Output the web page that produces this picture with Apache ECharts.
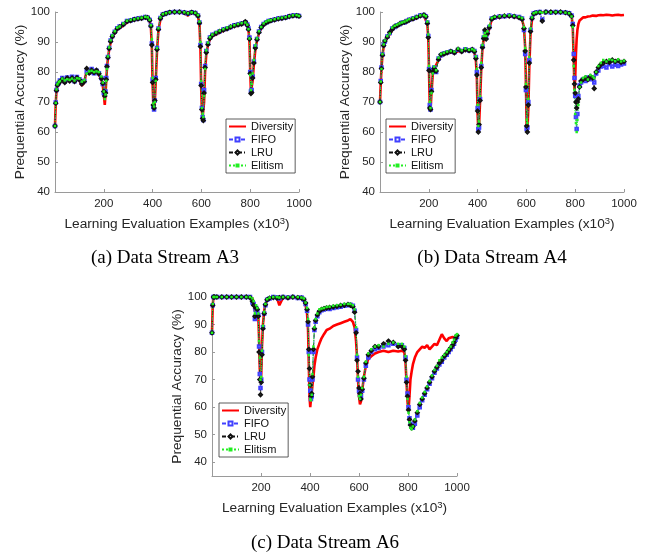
<!DOCTYPE html>
<html>
<head>
<meta charset="utf-8">
<script src="https://cdn.jsdelivr.net/npm/echarts@6/dist/echarts.min.js"></script>
<style>
  html, body { margin: 0; padding: 0; background: #fff; }
  #chart { width: 651px; height: 557px; }
</style>
</head>
<body>
<div id="chart"></div>
<script>
// Data Stream A3 (x in thousands of examples)
const xA = [
  0, 3, 6, 10, 15, 20, 30, 40, 50, 60,
  70, 80, 90, 100, 110, 120, 130, 140, 150, 160,
  170, 180, 190, 196, 200, 204, 207, 210, 213, 217,
  222, 228, 235, 245, 255, 265, 280, 295, 310, 325,
  340, 355, 370, 380, 388, 393, 397, 400, 403, 406,
  409, 413, 418, 424, 432, 442, 455, 470, 490, 510,
  530, 545, 560, 575, 586, 592, 596, 599, 602, 605,
  608, 611, 615, 620, 627, 635, 645, 660, 675, 690,
  705, 720, 735, 750, 765, 780, 788, 793, 797, 800,
  803, 806, 810, 815, 821, 828, 836, 845, 855, 865,
  875, 885, 900, 915, 930, 945, 960, 975, 990, 1000
];
const diversityA = [
  62.0, 69.5, 73.5, 75.5, 76.0, 76.5, 77.0, 76.3, 77.8, 76.8,
  77.5, 76.6, 77.9, 77.2, 75.4, 76.5, 80.6, 79.4, 80.2, 79.3,
  80.1, 79.0, 77.5, 75.5, 72.5, 69.0, 72.8, 77.0, 81.5, 84.5,
  87.5, 89.8, 91.5, 93.0, 94.2, 94.6, 95.5, 96.5, 97.0, 97.3,
  97.5, 97.8, 98.2, 98.0, 97.0, 95.0, 88.0, 76.0, 69.0, 68.0,
  70.0, 77.0, 87.0, 94.0, 97.5, 99.0, 99.5, 99.8, 100.0, 100.0,
  99.6, 98.8, 99.8, 99.5, 98.5, 96.0, 88.0, 75.0, 67.0, 65.0,
  64.5, 70.0, 80.0, 86.0, 89.0, 91.0, 92.0, 92.5, 93.2, 93.8,
  94.2, 94.8, 95.2, 95.5, 95.8, 96.2, 95.5, 94.0, 90.0, 80.5,
  73.5, 73.0, 77.0, 82.5, 87.5, 90.5, 93.0, 94.5, 95.5, 96.2,
  96.6, 97.0, 97.2, 97.6, 97.8, 98.0, 98.4, 98.6, 98.8, 98.6
];
const fifoA = [
  62.0, 69.8, 74.0, 75.8, 76.3, 77.2, 78.0, 76.8, 78.2, 77.3,
  78.4, 76.9, 78.3, 77.6, 76.5, 77.0, 80.2, 79.8, 81.0, 79.6,
  80.4, 79.6, 78.0, 76.0, 73.0, 72.5, 73.5, 78.0, 82.0, 85.0,
  88.0, 90.5, 92.0, 93.4, 94.6, 95.2, 96.0, 97.0, 97.2, 97.6,
  97.8, 98.0, 98.3, 98.1, 97.3, 95.5, 89.5, 77.5, 68.5, 67.5,
  70.5, 78.0, 88.0, 94.5, 98.0, 99.2, 99.6, 99.9, 100.0, 100.0,
  99.8, 99.4, 99.9, 99.7, 98.8, 96.5, 89.0, 76.0, 68.0, 65.0,
  64.0, 74.0, 82.0, 87.0, 89.5, 91.5, 92.4, 93.0, 93.6, 94.2,
  94.5, 95.0, 95.6, 95.8, 96.2, 96.6, 95.8, 94.5, 91.5, 80.0,
  73.5, 74.0, 78.5, 83.5, 88.5, 91.0, 93.5, 95.0, 96.0, 96.5,
  97.0, 97.2, 97.5, 97.8, 98.0, 98.2, 98.6, 98.8, 98.9, 98.7
];
const lruA = [
  62.0, 69.6, 73.8, 75.6, 76.2, 76.8, 77.6, 76.5, 78.0, 77.0,
  78.0, 76.8, 78.1, 77.4, 76.0, 76.8, 81.2, 79.6, 80.6, 79.8,
  80.6, 79.4, 77.8, 76.2, 73.5, 72.0, 73.0, 77.5, 81.8, 84.8,
  87.8, 90.2, 91.8, 93.2, 94.4, 95.0, 95.8, 96.8, 97.1, 97.5,
  97.7, 97.9, 98.2, 98.1, 97.2, 95.3, 89.0, 76.5, 69.0, 68.0,
  70.5, 77.5, 87.5, 94.2, 97.8, 99.1, 99.5, 99.9, 100.0, 100.0,
  99.8, 99.5, 99.9, 99.6, 98.7, 96.3, 88.5, 75.5, 67.5, 64.5,
  63.8, 73.0, 81.5, 86.5, 89.2, 91.2, 92.2, 92.9, 93.5, 94.0,
  94.4, 95.0, 95.4, 95.7, 96.0, 96.8, 95.6, 94.2, 91.0, 79.5,
  72.8, 73.2, 78.0, 83.0, 88.0, 90.8, 93.2, 94.8, 95.8, 96.4,
  96.8, 97.1, 97.4, 97.7, 97.9, 98.1, 98.5, 98.7, 98.8, 98.6
];
const elitismA = [
  62.0, 69.7, 74.2, 75.9, 76.6, 77.0, 77.8, 77.2, 77.6, 77.4,
  77.8, 77.2, 77.9, 77.8, 76.8, 77.3, 79.5, 80.2, 80.4, 80.0,
  80.2, 80.0, 78.5, 76.5, 73.5, 71.0, 72.5, 77.0, 81.0, 85.2,
  88.2, 90.6, 92.2, 93.6, 94.8, 95.2, 96.2, 97.1, 97.4, 97.6,
  97.9, 98.1, 98.4, 98.2, 97.4, 95.6, 91.0, 78.0, 69.5, 68.5,
  70.0, 77.0, 88.0, 94.6, 98.2, 99.3, 99.6, 99.9, 100.0, 100.0,
  99.9, 99.6, 99.9, 99.7, 99.0, 96.8, 90.0, 77.0, 68.0, 66.0,
  65.0, 72.0, 81.0, 87.2, 89.8, 91.6, 92.5, 93.2, 93.8, 94.3,
  94.8, 95.2, 95.6, 96.0, 96.3, 96.5, 95.8, 94.3, 91.2, 79.0,
  74.0, 76.0, 79.5, 84.0, 88.8, 91.2, 93.6, 95.0, 96.2, 96.8,
  97.2, 97.3, 97.6, 97.9, 98.1, 98.3, 98.6, 98.9, 99.0, 98.7
];

// Data Stream A4
const xB = [
  0, 3, 6, 10, 15, 20, 30, 40, 50, 60,
  70, 80, 90, 100, 110, 120, 135, 150, 165, 180,
  188, 194, 198, 201, 204, 207, 211, 216, 222, 230,
  240, 250, 262, 275, 290, 305, 320, 335, 350, 365,
  378, 387, 393, 397, 400, 403, 406, 410, 415, 420,
  425, 430, 435, 440, 448, 458, 470, 490, 510, 530,
  550, 570, 582, 590, 595, 598, 601, 604, 608, 612,
  617, 623, 630, 640, 655, 665, 680, 700, 720, 740,
  760, 775, 785, 790, 794, 797, 800, 803, 806, 809,
  813, 818, 824, 832, 842, 852, 862, 872, 878, 886,
  895, 905, 915, 928, 940, 952, 964, 976, 988, 1000
];
const diversityB = [
  70.0, 76.0, 81.0, 85.5, 88.5, 90.0, 91.5, 92.5, 94.0, 94.8,
  95.3, 95.8, 96.2, 96.3, 96.8, 97.2, 97.5, 98.0, 98.6, 98.8,
  98.3, 96.0, 91.0, 80.0, 68.5, 67.0, 73.0, 79.0, 81.0, 80.5,
  84.0, 85.3, 85.8, 86.2, 86.5, 86.3, 87.0, 86.6, 87.3, 87.0,
  87.2, 86.5, 84.0, 78.0, 66.0, 60.5, 62.0, 70.0, 81.0, 88.0,
  91.0, 92.5, 93.0, 92.0, 94.5, 97.5, 98.0, 98.2, 98.5, 98.6,
  98.4, 98.0, 97.5, 95.0, 88.0, 76.0, 62.0, 60.0, 68.0, 82.0,
  93.0, 97.5, 99.2, 99.8, 100.0, 100.0, 100.0, 100.0, 100.0, 100.0,
  99.8, 99.6, 99.0, 95.0, 84.0, 74.0, 78.0, 86.0, 91.0, 94.0,
  96.0, 97.2, 97.8, 98.2, 98.2, 98.5, 98.6, 98.8, 98.9, 98.7,
  98.9, 99.0, 98.9, 99.1, 99.0, 98.8, 99.0, 99.1, 98.9, 99.0
];
const fifoB = [
  70.0, 77.0, 81.5, 85.8, 89.0, 90.2, 91.8, 93.0, 94.5, 95.0,
  95.6, 95.9, 96.4, 96.5, 97.0, 97.4, 97.8, 98.3, 98.8, 99.0,
  98.5, 96.5, 92.0, 81.0, 69.0, 67.5, 74.0, 80.5, 81.5, 80.0,
  84.5, 85.6, 86.2, 86.5, 86.8, 86.6, 87.4, 87.0, 87.6, 87.2,
  87.4, 87.0, 85.0, 80.0, 68.0, 61.0, 61.5, 71.0, 82.0, 88.5,
  91.5, 93.5, 91.5, 93.0, 95.0, 97.8, 98.2, 98.5, 98.6, 98.8,
  98.6, 98.3, 97.8, 94.0, 86.0, 74.0, 61.0, 61.5, 70.0, 84.0,
  94.0, 98.0, 99.5, 99.8, 100.0, 97.5, 100.0, 99.8, 100.0, 99.9,
  99.8, 99.6, 98.8, 96.0, 86.0, 78.0, 72.0, 65.0, 61.0, 66.0,
  72.0, 75.5, 76.5, 77.5, 77.0, 78.2, 77.6, 78.0, 76.5, 79.5,
  80.5, 81.8, 82.0, 81.5, 82.6, 81.8, 82.4, 82.0, 82.5, 82.8
];
const lruB = [
  70.0, 76.5, 81.2, 85.6, 88.8, 90.3, 91.6, 93.2, 94.2, 95.2,
  95.4, 96.0, 96.3, 96.6, 96.9, 97.3, 97.7, 98.2, 98.7, 99.0,
  98.4, 96.2, 91.5, 80.5, 68.0, 67.5, 73.5, 80.0, 81.2, 80.3,
  84.2, 85.8, 86.0, 86.4, 86.9, 86.4, 87.6, 86.8, 87.4, 87.1,
  87.5, 86.8, 84.5, 79.0, 67.0, 60.0, 62.5, 70.5, 81.5, 88.2,
  91.2, 94.0, 91.0, 92.8, 94.8, 97.6, 98.3, 98.4, 98.7, 98.6,
  98.5, 98.1, 97.6, 94.5, 87.0, 75.0, 62.0, 60.0, 69.0, 83.0,
  93.5, 97.8, 99.4, 99.7, 99.9, 97.0, 100.0, 100.0, 99.9, 100.0,
  99.8, 99.5, 98.6, 95.5, 84.0, 76.0, 73.0, 70.0, 68.0, 70.0,
  71.0, 75.0, 77.0, 77.5, 78.0, 77.5, 78.5, 78.0, 74.5, 80.0,
  81.5, 82.5, 83.0, 83.5, 83.2, 84.0, 83.5, 83.8, 83.2, 83.5
];
const elitismB = [
  70.0, 76.8, 81.0, 86.0, 89.2, 90.5, 92.0, 92.8, 94.8, 95.4,
  95.8, 96.2, 96.5, 96.8, 97.2, 97.6, 98.0, 98.4, 98.9, 99.0,
  98.6, 96.8, 92.5, 82.0, 70.0, 68.0, 73.0, 79.5, 81.8, 80.6,
  84.8, 86.0, 86.4, 86.8, 87.0, 86.8, 87.8, 87.2, 87.8, 87.4,
  87.6, 87.2, 85.2, 81.0, 69.0, 62.0, 63.5, 72.0, 83.0, 89.0,
  92.0, 93.0, 92.0, 93.5, 95.5, 98.0, 98.4, 98.6, 98.8, 98.9,
  98.7, 98.4, 98.0, 95.0, 88.0, 76.0, 64.0, 63.0, 71.0, 85.0,
  94.5, 98.2, 99.6, 99.9, 100.0, 99.8, 100.0, 99.9, 100.0, 100.0,
  99.8, 99.6, 98.5, 95.0, 82.0, 74.0, 66.0, 63.0, 60.0, 64.0,
  69.0, 75.0, 76.5, 78.0, 78.5, 77.5, 79.0, 78.5, 78.0, 80.0,
  82.0, 83.0, 84.0, 83.5, 84.2, 84.0, 83.6, 84.2, 83.5, 83.8
];

// Data Stream A6
const xC = [
  0, 3, 6, 10, 20, 40, 60, 80, 100, 120,
  140, 155, 165, 170, 175, 180, 185, 189, 192, 195,
  198, 201, 204, 208, 213, 218, 225, 235, 250, 265,
  275, 290, 310, 330, 350, 365, 375, 382, 388, 392,
  395, 398, 401, 404, 407, 410, 414, 418, 423, 430,
  438, 447, 457, 468, 480, 495, 510, 525, 540, 555,
  565, 575, 582, 588, 592, 596, 600, 604, 608, 613,
  620, 628, 638, 650, 665, 680, 700, 720, 740, 760,
  775, 785, 790, 794, 798, 802, 806, 810, 815, 820,
  828, 838, 848, 858, 868, 878, 888, 898, 908, 918,
  928, 938, 948, 958, 966, 974, 982, 988, 994, 1000
];
const diversityC = [
  87.0, 97.0, 100, 100, 100, 100, 100, 100, 100, 100,
  100, 100, 99.5, 98.0, 95.0, 96.5, 95.5, 93.0, 85.0, 74.0,
  69.0, 72.0, 82.0, 90.0, 95.0, 97.5, 99.0, 99.5, 99.8, 99.8,
  97.0, 99.8, 99.6, 99.8, 99.7, 99.5, 98.5, 97.0, 94.0, 88.0,
  76.0, 64.0, 60.0, 63.0, 65.0, 68.0, 71.0, 75.0, 78.0, 81.0,
  83.0, 85.0, 86.5, 88.0, 88.5, 89.5, 90.0, 90.5, 91.0, 91.5,
  92.0, 91.0, 89.0, 84.0, 78.0, 70.0, 64.0, 61.0, 62.0, 66.0,
  71.0, 75.0, 77.5, 78.5, 79.5, 80.0, 80.5, 80.0, 80.5, 80.2,
  80.5, 80.0, 76.0, 69.0, 62.0, 58.5, 64.0, 70.0, 73.0, 75.5,
  78.0, 80.0, 81.0, 82.0, 81.5, 82.5, 81.0, 82.0, 83.0, 82.5,
  84.5, 86.5, 85.0, 84.0, 85.0, 84.5, 85.5, 86.0, 85.0, 86.0
];
const fifoC = [
  87.0, 97.0, 100, 100, 100, 100, 100, 100, 100, 100,
  100, 100, 98.0, 97.5, 92.0, 96.0, 95.0, 93.5, 82.0, 72.0,
  67.0, 70.0, 80.0, 89.0, 94.0, 97.0, 99.0, 99.5, 100, 99.8,
  99.5, 100, 99.8, 100, 99.6, 99.8, 99.0, 97.5, 95.0, 90.0,
  80.0, 70.0, 66.0, 63.0, 64.0, 70.0, 80.0, 88.0, 91.0, 93.0,
  94.5, 95.2, 95.5, 95.8, 95.6, 96.0, 96.3, 96.5, 96.8, 97.0,
  97.2, 96.8, 95.0, 88.0, 78.0, 70.0, 66.0, 64.5, 64.0, 66.0,
  70.0, 75.0, 78.0, 80.0, 81.0, 81.5, 82.0, 82.5, 83.0, 82.5,
  82.5, 81.5, 78.0, 70.0, 65.0, 60.0, 56.0, 54.0, 53.0, 52.5,
  54.0, 57.0, 60.0, 62.5, 64.5, 66.5, 68.5, 70.5, 72.5, 74.0,
  75.5, 76.5, 78.0, 79.0, 80.0, 81.0, 82.0, 83.0, 84.5, 85.5
];
const lruC = [
  87.0, 97.0, 100, 100, 100, 100, 100, 100, 100, 100,
  100, 99.8, 98.5, 97.0, 93.0, 96.0, 95.5, 93.0, 80.0, 70.0,
  64.5, 69.0, 79.0, 88.5, 94.0, 97.2, 99.0, 99.6, 99.8, 99.6,
  99.8, 99.9, 99.7, 100, 99.8, 99.6, 99.2, 97.8, 95.5, 91.0,
  81.0, 74.0, 68.0, 64.0, 65.0, 71.0, 81.0, 88.5, 91.5, 93.5,
  94.8, 95.5, 95.8, 96.0, 96.2, 96.4, 96.6, 96.9, 97.0, 97.3,
  97.0, 96.5, 94.5, 87.0, 77.0, 73.0, 67.0, 65.0, 63.0, 66.5,
  70.5, 76.0, 79.0, 80.5, 82.0, 82.0, 83.0, 84.0, 83.5, 82.0,
  82.0, 81.0, 77.0, 69.0, 64.0, 59.0, 55.5, 53.5, 52.5, 53.0,
  55.0, 58.0, 61.0, 63.0, 65.0, 67.0, 69.0, 71.0, 73.0, 74.5,
  76.0, 77.0, 78.5, 79.5, 80.5, 81.5, 82.5, 83.5, 85.0, 86.0
];
const elitismC = [
  87.0, 97.5, 100, 100, 100, 100, 100, 100, 100, 100,
  100, 100, 99.5, 98.5, 94.0, 97.0, 96.0, 94.0, 84.0, 78.0,
  70.0, 71.0, 80.5, 89.5, 94.5, 97.5, 99.2, 99.8, 100, 100,
  99.8, 100, 100, 100, 100, 99.8, 99.5, 98.0, 96.0, 92.0,
  79.0, 68.0, 63.0, 62.5, 64.5, 72.0, 82.0, 89.0, 92.0, 94.0,
  95.5, 95.8, 96.0, 96.4, 96.5, 96.8, 97.0, 97.2, 97.5, 97.5,
  97.5, 97.0, 95.5, 89.0, 79.0, 71.0, 64.0, 63.0, 64.5, 67.0,
  71.0, 76.5, 79.5, 81.0, 82.0, 82.5, 82.0, 83.0, 83.5, 83.0,
  83.0, 82.0, 78.5, 71.0, 63.0, 58.0, 54.5, 52.5, 52.0, 53.0,
  55.5, 58.5, 61.5, 63.5, 65.5, 67.5, 69.5, 71.5, 73.5, 75.0,
  77.0, 78.0, 79.0, 80.0, 81.0, 82.0, 83.5, 84.5, 86.0, 86.5
];

const seriesNames = ['Diversity', 'FIFO', 'LRU', 'Elitism'];
const yTicks = [40, 50, 60, 70, 80, 90, 100];
const captions = ['(a) Data Stream A3', '(b) Data Stream A4', '(c) Data Stream A6'];

const FONT = 'Liberation Sans, Arial, sans-serif';
const SERIF = 'Liberation Serif, Times New Roman, serif';

const grids = [
  { left: 55, top: 12, width: 244, height: 180 },
  { left: 380, top: 12, width: 244, height: 180 },
  { left: 212, top: 297, width: 245, height: 179 }
];

function pairs(xs, ys) {
  return xs.map((x, i) => [x, ys[i]]);
}

function xAxisFor(i) {
  return {
    gridIndex: i,
    type: 'value',
    min: 0,
    max: 1000,
    interval: 200,
    name: 'Learning Evaluation Examples (x10{sup|3})',
    nameLocation: 'middle',
    nameGap: 24,
    nameTextStyle: {
      fontFamily: FONT, fontSize: 13.7, color: '#262626',
      rich: { sup: { fontFamily: FONT, fontSize: 9.5, color: '#262626', padding: [0, 0, 7, 0] } }
    },
    axisLine: { lineStyle: { color: '#9a9a9a', width: 1 } },
    axisTick: { inside: true, length: 3, lineStyle: { color: '#9a9a9a' } },
    axisLabel: {
      fontFamily: FONT, fontSize: 11.5, color: '#262626', margin: 6,
      formatter: v => (v === 0 ? '' : String(v))
    },
    splitLine: { show: false }
  };
}

function yAxisFor(i, min) {
  return {
    gridIndex: i,
    type: 'value',
    min: min,
    max: 100,
    name: 'Prequential Accuracy (%)',
    nameLocation: 'middle',
    nameGap: 25,
    nameTextStyle: { fontFamily: FONT, fontSize: 13.7, color: '#262626' },
    axisLine: { show: true, lineStyle: { color: '#9a9a9a', width: 1 } },
    axisTick: { show: true, inside: true, length: 3, customValues: yTicks, lineStyle: { color: '#9a9a9a' } },
    axisLabel: { fontFamily: FONT, fontSize: 11.5, color: '#262626', margin: 5, customValues: yTicks },
    splitLine: { show: false }
  };
}

function seriesFor(i, xs, div, fifo, lru, eli) {
  const common = { type: 'line', xAxisIndex: i, yAxisIndex: i, animation: false };
  return [
    Object.assign({}, common, {
      name: 'Diversity', data: pairs(xs, div), showSymbol: false, symbol: 'none',
      lineStyle: { color: '#ff0000', width: 2.6 }, itemStyle: { color: '#ff0000' }
    }),
    Object.assign({}, common, {
      name: 'FIFO', data: pairs(xs, fifo), symbol: 'emptyRect', symbolSize: 2.5,
      lineStyle: { color: '#4040ff', width: 0.8, type: [4, 2] },
      itemStyle: { color: '#4040ff', borderColor: '#4040ff', borderWidth: 0.6 }
    }),
    Object.assign({}, common, {
      name: 'LRU', data: pairs(xs, lru), symbol: 'emptyDiamond', symbolSize: 3,
      lineStyle: { color: '#111111', width: 0.8, type: [4, 2, 1, 2] },
      itemStyle: { color: '#111111', borderColor: '#111111', borderWidth: 0.6 }
    }),
    Object.assign({}, common, {
      name: 'Elitism', data: pairs(xs, eli), symbol: 'rect', symbolSize: 2.5,
      lineStyle: { color: '#22ee22', width: 1.2, type: 'dotted' },
      itemStyle: { color: '#22ee22' }
    })
  ];
}

function legendFor(left, top) {
  return {
    data: [
      { name: 'Diversity', itemStyle: { color: 'rgba(0,0,0,0)', borderColor: 'rgba(0,0,0,0)', borderWidth: 0 } },
      { name: 'FIFO' },
      { name: 'LRU' },
      { name: 'Elitism' }
    ],
    orient: 'vertical',
    left: left,
    top: top,
    padding: [2, 2, 2, 2],
    itemGap: 2,
    itemWidth: 17,
    itemHeight: 5,
    borderColor: '#333',
    borderWidth: 0.8,
    backgroundColor: '#fff',
    textStyle: { fontFamily: FONT, fontSize: 11, color: '#111' }
  };
}

const chart = echarts.init(document.getElementById('chart'), null, { renderer: 'canvas' });

chart.setOption({
  backgroundColor: '#ffffff',
  animation: false,
  grid: grids,
  xAxis: [xAxisFor(0), xAxisFor(1), xAxisFor(2)],
  yAxis: [yAxisFor(0, 40), yAxisFor(1, 40), yAxisFor(2, 35)],
  legend: [legendFor(226, 119), legendFor(386, 119), legendFor(219, 403)],
  series: [].concat(
    seriesFor(0, xA, diversityA, fifoA, lruA, elitismA),
    seriesFor(1, xB, diversityB, fifoB, lruB, elitismB),
    seriesFor(2, xC, diversityC, fifoC, lruC, elitismC)
  ),
  graphic: [
    { type: 'text', x: 165, y: 258, style: { text: captions[0], font: '19px ' + SERIF, fill: '#000', textAlign: 'center', textVerticalAlign: 'middle' } },
    { type: 'text', x: 492, y: 258, style: { text: captions[1], font: '19px ' + SERIF, fill: '#000', textAlign: 'center', textVerticalAlign: 'middle' } },
    { type: 'text', x: 325, y: 543, style: { text: captions[2], font: '19px ' + SERIF, fill: '#000', textAlign: 'center', textVerticalAlign: 'middle' } }
  ]
});
</script>
</body>
</html>
